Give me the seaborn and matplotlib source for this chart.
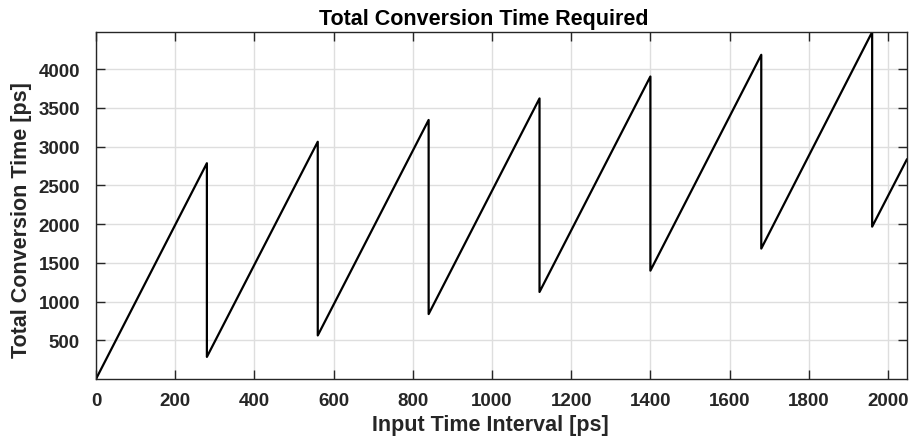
import matplotlib
matplotlib.use("Agg")
import matplotlib.pyplot as plt
import seaborn as sns
import pandas as pd

# Data (sawtooth: rise then vertical drop)
input_interval_ps = [0, 280, 280, 560, 560, 840, 840, 1120, 1120, 1400, 1400,
                     1680, 1680, 1960, 1960, 2048]
conversion_time_ps = [0, 2785, 285, 3062, 562, 3343, 838, 3621, 1123, 3904, 1398,
                      4184, 1683, 4478, 1966, 2837]

x_ticks = [0, 200, 400, 600, 800, 1000, 1200, 1400, 1600, 1800, 2000]
y_ticks = [500, 1000, 1500, 2000, 2500, 3000, 3500, 4000]

df = pd.DataFrame({"x": input_interval_ps, "y": conversion_time_ps})

sns.set_theme(style="white")
plt.rcParams['font.family'] = ['Liberation Sans', 'DejaVu Sans']

fig = plt.figure(figsize=(9.1, 4.39), dpi=100)
ax = fig.add_axes([0.1055, 0.1344, 0.8912, 0.7904])

sns.lineplot(data=df, x="x", y="y", sort=False, estimator=None,
             color="black", linewidth=1.6, ax=ax)

ax.set_xlim(0, 2048)
ax.set_ylim(0, 4478)
ax.set_xticks(x_ticks)
ax.set_yticks(y_ticks)
ax.set_xticklabels([str(v) for v in x_ticks])
ax.set_yticklabels([str(v) for v in y_ticks])

ax.grid(True, color="#dedede", linewidth=1.0)
ax.set_axisbelow(True)
for s in ax.spines.values():
    s.set_color("#262626")
    s.set_linewidth(1.0)
    s.set_visible(True)

ax.tick_params(axis="both", which="both", direction="in", length=6.5, width=1.0,
               color="#262626", top=True, right=True, bottom=True, left=True,
               labelsize=13.5, labelcolor="#262626")
ax.tick_params(axis="x", pad=9.5)
ax.tick_params(axis="y", pad=11.5)
for lbl in ax.get_xticklabels() + ax.get_yticklabels():
    lbl.set_fontweight("bold")

ax.set_xlabel("Input Time Interval [ps]", fontsize=15.5, fontweight="bold",
              color="#262626")
ax.set_ylabel("Total Conversion Time [ps]", fontsize=15.5, fontweight="bold",
              color="#262626")
ax.xaxis.set_label_coords(0.486, -0.100)
ax.yaxis.set_label_coords(-0.079, 0.462)
ax.set_title("Total Conversion Time Required", fontsize=15.5, fontweight="bold",
             color="black", pad=5.8, x=0.478)

fig.savefig("out.png", dpi=100)
